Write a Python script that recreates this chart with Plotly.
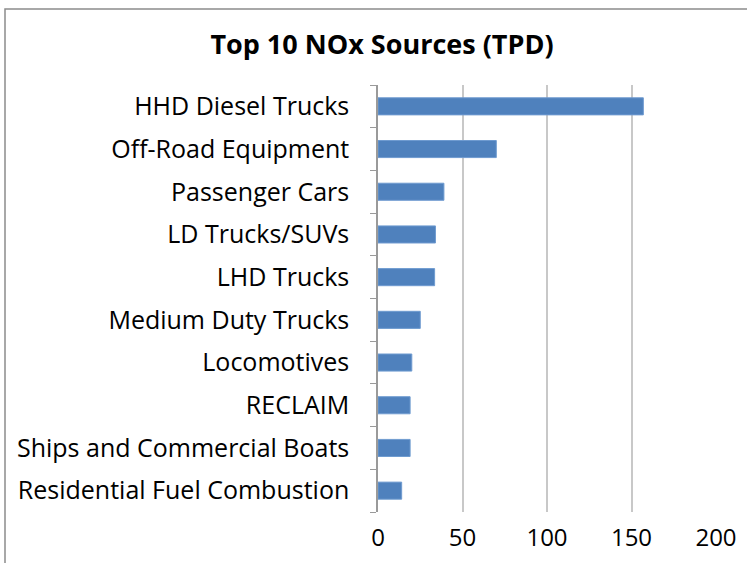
import plotly.graph_objects as go

categories = ["HHD Diesel Trucks", "Off-Road Equipment", "Passenger Cars", "LD Trucks/SUVs",
              "LHD Trucks", "Medium Duty Trucks", "Locomotives", "RECLAIM",
              "Ships and Commercial Boats", "Residential Fuel Combustion"]
values = [157, 70, 39, 34, 33.5, 25, 20, 19, 19, 14]
x_ticks = [0, 50, 100, 150, 200]

W, H = 747, 563
L, R, T, B = 378, 716, 85, 512

fig = go.Figure(go.Bar(
    y=categories, x=values, orientation="h",
    marker=dict(color="#4f81bd", line=dict(color="#6f9bd0", width=1)),
    width=0.4,
))

def px_x(p):
    return (p - L) / (R - L)

def px_y(p):
    return (B - p) / (B - T)

fig.update_layout(
    width=W, height=H,
    margin=dict(l=L, r=W - R, t=T, b=H - B, autoexpand=False),
    paper_bgcolor="white", plot_bgcolor="white",
    showlegend=False,
    font=dict(family="Open Sans, DejaVu Sans, sans-serif", color="#000000", size=25),
    title=dict(text="<b>Top 10 NOx Sources (TPD)</b>", xref="container", x=382 / W,
               xanchor="center", yref="container", y=1 - 45 / H, yanchor="middle",
               automargin=False,
               font=dict(size=27, family="Open Sans, sans-serif", color="#000")),
    xaxis=dict(range=[0, 200], tickvals=x_ticks, showgrid=True, gridcolor="#c8c8c8",
               gridwidth=1.5, zeroline=False, showline=False, ticks="",
               tickfont=dict(size=24), ticklabelstandoff=9, automargin=False),
    yaxis=dict(categoryorder="array", categoryarray=categories[::-1], showgrid=False,
               showline=True, linecolor="#9a9a9a", linewidth=1.5, ticks="outside",
               tickson="boundaries", ticklen=6, tickcolor="#9a9a9a",
               tickfont=dict(size=25), ticklabelstandoff=22, zeroline=False,
               automargin=False),
    shapes=[dict(type="rect", xref="paper", yref="paper",
                 x0=px_x(5), x1=px_x(W + 20), y0=px_y(H + 20), y1=px_y(9),
                 line=dict(color="#8c8c8c", width=1.5), layer="below")],
)

fig.write_html("out.html", config={"displayModeBar": False},
               post_script="document.body.style.margin='0';document.body.style.overflow='hidden';")
